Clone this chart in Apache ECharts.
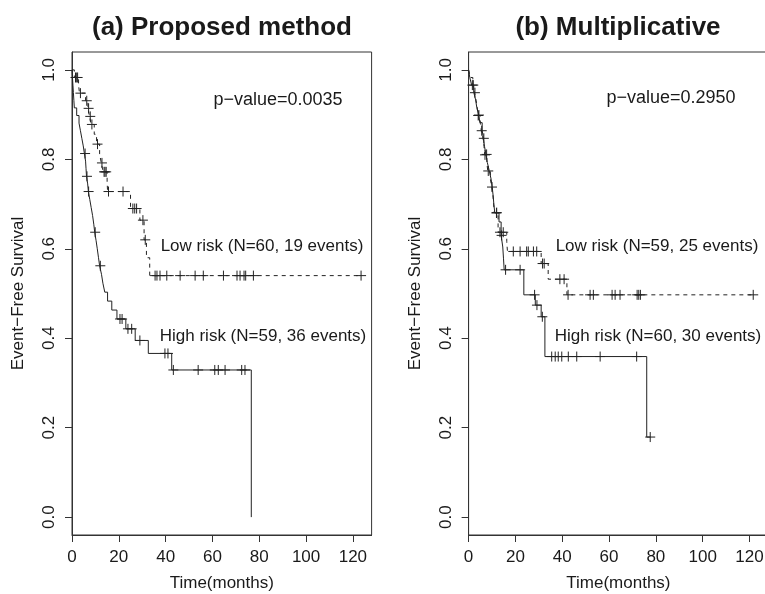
<!DOCTYPE html>
<html>
<head>
<meta charset="utf-8">
<script src="https://cdn.jsdelivr.net/npm/echarts@6/dist/echarts.min.js"></script>
<style>
html,body{margin:0;padding:0;background:#fff;}
#c{width:765px;height:594px;}
</style>
</head>
<body>
<div id="c"></div>
<script>
// ---------- data (time in months, event-free survival) ----------
const xTicks = [0, 20, 40, 60, 80, 100, 120];
const yTicks = [0, 0.2, 0.4, 0.6, 0.8, 1.0];
const panelTitles = ['(a) Proposed method', '(b) Multiplicative'];
const pValues = ['p\u2212value=0.0035', 'p\u2212value=0.2950'];
const lowLabels = ['Low risk (N=60, 19 events)', 'Low risk (N=59, 25 events)'];
const highLabels = ['High risk (N=59, 36 events)', 'High risk (N=60, 30 events)'];

// Panel (a) low risk: step knots [time, survival after time]
const aLowSteps = [[0,1],[1.0,0.983],[2.8,0.966],[3.2,0.948],[5.8,0.931],[6.8,0.914],[7.5,0.896],[8.2,0.878],
  [9.5,0.856],[10.5,0.834],[11.8,0.812],[12.5,0.792],[13.3,0.772],[15.0,0.750],[15.2,0.728],[25.0,0.690],
  [29.0,0.664],[30.8,0.620],[31.8,0.580],[33.2,0.540],[123.5,0.540]];
const aLowCensor = [[1.5,0.983],[2.0,0.983],[2.4,0.983],[3.6,0.948],[6.3,0.931],[7.1,0.914],[7.8,0.896],[8.5,0.878],
  [10.9,0.834],[12.8,0.792],[13.7,0.772],[14.1,0.772],[14.6,0.772],[15.6,0.728],[21.8,0.728],[26.0,0.690],
  [26.8,0.690],[27.6,0.690],[30.3,0.664],[31.3,0.620],[35.5,0.540],[36.3,0.540],[37.6,0.540],[40.5,0.540],
  [46.2,0.540],[52.6,0.540],[56.1,0.540],[64.7,0.540],[70.5,0.540],[71.8,0.540],[73.5,0.540],[74.2,0.540],
  [77.5,0.540],[123.5,0.540]];

// Panel (a) high risk
const aHighSteps = [[0,1],[0.2,0.983],[0.4,0.966],[0.6,0.949],[0.8,0.932],[1.0,0.915],[2.0,0.898],[3.0,0.881],
  [3.6,0.864],[4.2,0.847],[4.8,0.830],[5.3,0.813],[5.8,0.796],[6.0,0.779],[6.2,0.762],[6.7,0.745],[7.0,0.728],
  [7.6,0.710],[8.2,0.692],[8.8,0.674],[9.3,0.655],[9.7,0.637],[10.3,0.618],[10.8,0.600],[11.3,0.581],
  [11.8,0.562],[12.6,0.543],[13.2,0.523],[14.0,0.503],[15.2,0.483],[17.0,0.463],[19.2,0.443],[23.0,0.421],
  [27.0,0.395],[32.6,0.366],[42.6,0.329],[76.6,0.0]];
const aHighCensor = [[5.6,0.813],[6.4,0.762],[7.1,0.728],[9.9,0.637],[12.1,0.562],[20.5,0.443],[21.4,0.443],
  [23.9,0.421],[25.5,0.421],[29.0,0.395],[39.7,0.366],[41.0,0.366],[43.3,0.329],[53.9,0.329],[61.0,0.329],
  [62.5,0.329],[65.4,0.329],[72.5,0.329],[73.9,0.329]];

// Panel (b) low risk
const bLowSteps = [[0,1],[0.8,0.983],[1.8,0.966],[2.5,0.949],[3.2,0.932],[3.7,0.915],[4.0,0.898],[5.0,0.881],
  [5.4,0.864],[6.2,0.846],[6.6,0.828],[6.9,0.810],[7.8,0.792],[8.2,0.774],[9.3,0.756],[9.9,0.738],[10.4,0.719],
  [10.7,0.700],[11.0,0.681],[12.6,0.637],[16.3,0.616],[16.6,0.594],[31.0,0.567],[34.0,0.532],[42.0,0.497],
  [121.6,0.497]];
const bLowCensor = [[2.0,0.966],[2.7,0.949],[4.1,0.898],[5.6,0.864],[7.0,0.810],[8.4,0.774],[10.0,0.738],
  [12.0,0.681],[13.4,0.637],[14.8,0.637],[19.1,0.594],[22.0,0.594],[24.8,0.594],[25.5,0.594],[27.7,0.594],
  [29.1,0.594],[31.6,0.567],[32.3,0.567],[39.0,0.532],[40.8,0.532],[42.5,0.497],[51.9,0.497],[53.3,0.497],
  [61.3,0.497],[62.6,0.497],[64.7,0.497],[72.0,0.497],[72.7,0.497],[73.4,0.497],[121.6,0.497]];

// Panel (b) high risk
const bHighSteps = [[0,1],[0.5,0.983],[1.3,0.966],[2.2,0.950],[3.0,0.933],[3.5,0.916],[4.3,0.899],[4.8,0.882],
  [5.8,0.865],[6.3,0.847],[6.8,0.829],[7.4,0.811],[8.0,0.793],[8.8,0.775],[9.6,0.756],[10.1,0.737],[10.5,0.718],
  [10.8,0.699],[11.2,0.680],[13.0,0.660],[13.9,0.630],[14.6,0.604],[14.9,0.579],[15.2,0.553],[23.6,0.497],
  [28.5,0.474],[31.0,0.448],[32.6,0.359],[76.1,0.179],[77.6,0.179]];
const bHighCensor = [[1.6,0.966],[4.4,0.899],[6.5,0.847],[7.7,0.811],[11.9,0.680],[14.1,0.630],[15.8,0.553],
  [22.0,0.553],[28.2,0.497],[29.2,0.474],[31.5,0.448],[35.5,0.359],[37.0,0.359],[38.3,0.359],[39.8,0.359],
  [42.6,0.359],[46.2,0.359],[56.2,0.359],[71.8,0.359],[77.6,0.179]];

// ---------- chart ----------
const FONT = '"Liberation Sans", Arial, Helvetica, sans-serif';
const INK = '#1a1a1a';
const chart = echarts.init(document.getElementById('c'), null, {renderer: 'canvas'});

const gridTop = 52, gridH = 483, gridW = 299.6;
const gridLefts = [72, 468.6];
const XMAX = 128, YMIN = -0.04, YMAX = 1.04;

function xAxis(i) {
  return {
    gridIndex: i, type: 'value', min: 0, max: XMAX, position: 'bottom',
    name: 'Time(months)', nameLocation: 'middle', nameGap: 40,
    nameTextStyle: {fontFamily: FONT, fontSize: 17, color: INK},
    axisLine: {show: true, onZero: false, lineStyle: {color: '#333', width: 1}},
    axisTick: {show: true, length: 7, inside: false, customValues: xTicks, lineStyle: {color: '#333', width: 1}},
    axisLabel: {show: true, customValues: xTicks, margin: 14, fontFamily: FONT, fontSize: 17, color: INK},
    splitLine: {show: false}
  };
}
function yAxis(i) {
  return {
    gridIndex: i, type: 'value', min: YMIN, max: YMAX, position: 'left',
    name: 'Event\u2212Free Survival', nameLocation: 'middle', nameGap: 45, nameRotate: 90,
    nameTextStyle: {fontFamily: FONT, fontSize: 17, color: INK},
    axisLine: {show: true, onZero: false, lineStyle: {color: '#333', width: 1}},
    axisTick: {show: true, length: 7, inside: false, customValues: yTicks, lineStyle: {color: '#333', width: 1}},
    axisLabel: {show: true, customValues: yTicks, rotate: 90, margin: 14, fontFamily: FONT, fontSize: 17, color: INK,
      formatter: v => Number(v).toFixed(1)},
    splitLine: {show: false}
  };
}
const plusSymbol = 'path://M0,5L10,5M5,0L5,10';
function stepLine(i, data, dashed) {
  return {
    type: 'line', xAxisIndex: i, yAxisIndex: i, data: data, step: 'end',
    showSymbol: false, symbol: 'none', silent: true,
    lineStyle: {color: '#222', width: 1, type: dashed ? [4, 4] : 'solid'}
  };
}
function censor(i, data) {
  return {
    type: 'scatter', xAxisIndex: i, yAxisIndex: i, data: data, symbol: plusSymbol, symbolSize: [10, 10],
    silent: true,
    itemStyle: {color: 'rgba(0,0,0,0)', borderColor: '#222', borderWidth: 1, opacity: 1}
  };
}
function txt(x, y, text, font) {
  return {type: 'text', x: x, y: y, silent: true,
    style: {text: text, font: font, fill: INK, align: 'center', verticalAlign: 'middle',
      textAlign: 'center', textVerticalAlign: 'middle'}};
}

const norm = '17px ' + FONT, pfont = '18px ' + FONT, bold = 'bold 26px ' + FONT;
chart.setOption({
  animation: false,
  backgroundColor: '#fff',
  grid: gridLefts.map(l => ({left: l, top: gridTop, width: gridW, height: gridH, show: true,
    borderColor: '#333', borderWidth: 1, backgroundColor: 'transparent', containLabel: false,
    outerBoundsMode: 'none'})),
  xAxis: [xAxis(0), xAxis(1)],
  yAxis: [yAxis(0), yAxis(1)],
  series: [
    stepLine(0, aLowSteps, true), stepLine(0, aHighSteps, false),
    censor(0, aLowCensor), censor(0, aHighCensor),
    stepLine(1, bLowSteps, true), stepLine(1, bHighSteps, false),
    censor(1, bLowCensor), censor(1, bHighCensor)
  ],
  graphic: [
    txt(222, 28, panelTitles[0], bold),
    txt(618, 28, panelTitles[1], bold),
    txt(278, 100, pValues[0], pfont),
    txt(671, 98, pValues[1], pfont),
    txt(262, 246, lowLabels[0], norm),
    txt(263, 336, highLabels[0], norm),
    txt(657, 246, lowLabels[1], norm),
    txt(658, 336, highLabels[1], norm)
  ]
});
</script>
</body>
</html>
